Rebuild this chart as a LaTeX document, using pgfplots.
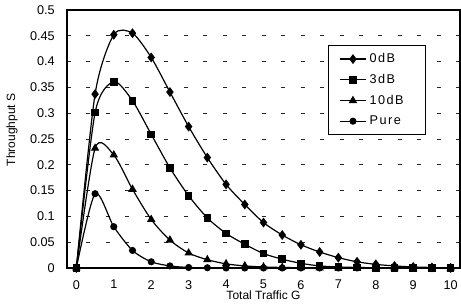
\documentclass[border=0pt]{standalone}
\usepackage{fontspec}
\setmainfont{Liberation Sans}
\newfontfamily\lsfont[LetterSpace=12]{Liberation Sans}
\usepackage{pgfplots}
\pgfplotsset{compat=1.18}
\usetikzlibrary{calc}
\pgfplotstableread{
G     a      b      c      d
0     0      0      0      0
0.5   0.337  0.301  0.232  0.144
1     0.452  0.361  0.219  0.080
1.5   0.455  0.324  0.1525 0.034
2     0.408  0.259  0.094  0.012
2.5   0.341  0.194  0.054  0.004
3     0.274  0.140  0.029  0.001
3.5   0.214  0.097  0.016  0.0005
4     0.162  0.067  0.008  0
4.5   0.123  0.046  0.004  0
5     0.088  0.028  0.002  0
5.5   0.064  0.017  0.001  0
6     0.045  0.009  0.0005 0
6.5   0.031  0.004  0      0
7     0.020  0.002  0      0
7.5   0.012  0.001  0      0
8     0.007  0.0005 0      0
8.5   0.004  0      0      0
9     0.002  0      0      0
9.5   0.001  0      0      0
10    0      0      0      0
}\data
\begin{document}
\begin{tikzpicture}
\begin{axis}[
  scale only axis, width=294.75pt, height=193.5pt,
  xmin=-0.25, xmax=10.25, ymin=0, ymax=0.5,
  axis line style={line width=0.8pt, black},
  xtick={0,1,...,10},
  major x tick style={draw=none},
  extra x ticks={0.25,0.75,...,10.25},
  extra x tick labels={},
  extra x tick style={tick style={black, line width=0.6pt}, major tick length=3pt, tick align=inside},
  ytick={0,0.05,...,0.5},
  yticklabels={0,0.05,0.1,0.15,0.2,0.25,0.3,0.35,0.4,0.45,0.5},
  major y tick style={draw=none},
  ymajorgrids,
  major grid style={dash pattern=on 3pt off 11.6pt, line width=0.6pt, black!85},
  tick label style={font=\fontsize{9.5}{11}\selectfont},
  /pgf/number format/assume math mode=true,
  yticklabel style={inner sep=0pt, xshift=-9pt},
  xticklabel style={inner sep=0pt, yshift=-9pt},
  xlabel={Total Traffic G},
  ylabel={Throughput S},
  every axis x label/.style={at={(axis description cs:0.5,0)}, anchor=north, inner sep=0pt, yshift=-17pt, font=\fontsize{9}{10}\selectfont},
  every axis y label/.style={at={(axis description cs:-0.14,0.535)}, rotate=90, anchor=center, inner sep=0pt, font=\fontsize{9}{10}\selectfont},
  legend style={at={(axis description cs:0.664,0.864)}, anchor=north west, draw=black, line width=0.6pt,
    font=\lsfont\fontsize{9.5}{11}\selectfont, row sep=3.2pt, inner xsep=8pt, inner ysep=4pt},
  legend cell align=left,
  legend image code/.code={\draw[mark repeat=2,mark phase=2] plot coordinates {(0pt,0pt) (10pt,0pt) (20pt,0pt)};},
  every axis plot/.append style={black, line width=0.9pt, smooth, tension=0.45},
]
\addplot[mark=diamond*, mark size=3pt] table[x=G, y=a] {\data};
\addlegendentry{\makebox[32pt][l]{0dB}}
\addplot[mark=square*, mark size=2.4pt] table[x=G, y=b] {\data};
\addlegendentry{\makebox[32pt][l]{3dB}}
\addplot[mark=triangle*, mark size=2.8pt] table[x=G, y=c] {\data};
\addlegendentry{\makebox[32pt][l]{10dB}}
\addplot[mark=*, mark size=2.2pt] table[x=G, y=d] {\data};
\addlegendentry{\makebox[32pt][l]{Pure}}
\end{axis}
\pgfresetboundingbox
\path[use as bounding box] ($(current axis.south west)+(-50.25pt,-30pt)$) rectangle ($(current axis.north east)+(0.75pt,7.5pt)$);
\end{tikzpicture}
\end{document}
